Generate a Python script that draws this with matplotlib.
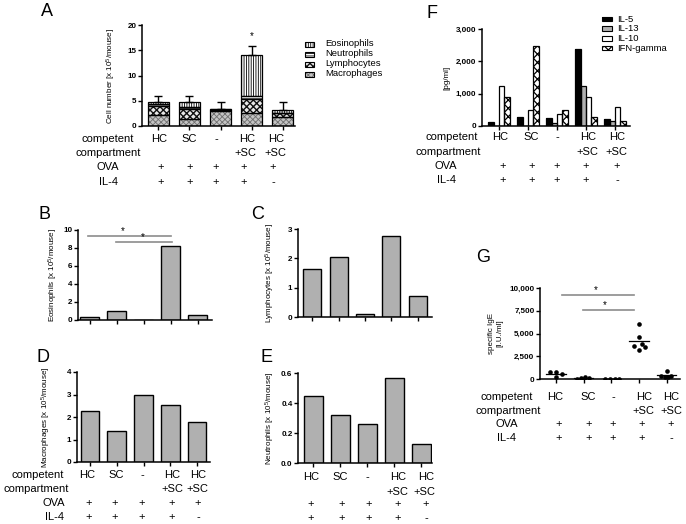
import matplotlib
matplotlib.use('Agg')
import matplotlib.pyplot as plt
from matplotlib.patches import Rectangle

plt.rcParams['font.family'] = ['Liberation Sans', 'DejaVu Sans']
plt.rcParams['mathtext.fontset'] = 'custom'
plt.rcParams['mathtext.rm'] = 'Liberation Sans'
plt.rcParams['mathtext.it'] = 'Liberation Sans:italic'
plt.rcParams['mathtext.bf'] = 'Liberation Sans:bold'
plt.rcParams['hatch.linewidth'] = 0.6

# ---------------- data ----------------
groups = ['HC', 'SC', '-', 'HC\n+SC', 'HC\n+SC']
ova_row = ['+', '+', '+', '+', '+']
il4_row = ['+', '+', '+', '+', '-']

eosinophils = [0.37, 1.0, 0.0, 8.22, 0.55]
lymphocytes = [1.63, 2.03, 0.09, 2.76, 0.73]
macrophages = [2.27, 1.39, 2.98, 2.52, 1.78]
neutrophils = [0.45, 0.32, 0.26, 0.565, 0.125]
total_sem = [1.2, 1.28, 1.34, 1.73, 1.53]

cytokine_names = ['IL-5', 'IL-13', 'IL-10', 'IFN-gamma']
il5 = [115, 290, 258, 2375, 227]
il13 = [0, 0, 80, 1240, 155]
il10 = [1240, 495, 370, 890, 600]
ifng = [890, 2480, 495, 270, 155]

ige_hc = [800, 800, 580, 180]
ige_sc = [30, 120, 220, 80, 40]
ige_none = [20, 20, 20, 20]
ige_hcsc = [6040, 4570, 3850, 3660, 3470, 3220]
ige_hcsc_noil4 = [900, 380, 300, 250, 200]

# ---------------- layout helpers ----------------
W, H = 686, 524
fig = plt.figure(figsize=(W / 100, H / 100), dpi=100)
GRAY = '#b0b0b0'
LINEG = '#8c8c8c'


def add_ax(x0, x1, ytop, ybot):
    return fig.add_axes([x0 / W, 1 - ybot / H, (x1 - x0) / W, (ybot - ytop) / H])


def T(x, y, s, size=8, ha='center', va='center', **kw):
    fig.text(x / W, 1 - y / H, s, fontsize=size, ha=ha, va=va, **kw)


def style(ax, ymax, yticks, yticklabels, ylabel, labx, xlim, x0px, x1px):
    ax.set_ylim(0, ymax)
    ax.set_xlim(*xlim)
    for s in ['top', 'right']:
        ax.spines[s].set_visible(False)
    for s in ['left', 'bottom']:
        ax.spines[s].set_linewidth(1.1)
    ax.set_yticks(yticks)
    ax.set_yticklabels(yticklabels, fontsize=5.8, fontweight='bold')
    ax.set_xticks(range(5))
    ax.set_xticklabels([])
    ax.tick_params(length=3, width=1, pad=1)
    ax.set_ylabel(ylabel, fontsize=5.8)
    ax.yaxis.set_label_coords((labx - x0px) / (x1px - x0px), 0.5)
    ax.patch.set_alpha(0)


def table(rowlab_x, rows_y, col_x, plus_x):
    labs = ['competent', 'compartment', 'OVA', 'IL-4']
    for i, lab in enumerate(labs):
        if rowlab_x[i] is not None:
            T(rowlab_x[i], rows_y[i], lab)
    for i, g in enumerate(groups):
        parts = g.split('\n')
        for j, p in enumerate(parts):
            T(col_x[j][i], rows_y[j], p)
        T(plus_x[i], rows_y[2], ova_row[i])
        T(plus_x[i], rows_y[3], il4_row[i])


xs = list(range(5))

# ---------------- Panel A ----------------
axA = add_ax(142, 295, 25, 126)
bw = 0.68
layers = [
    (macrophages, '#c4c4c4', '#6e6e6e', 'xxxxxx', 'Macrophages'),
    (lymphocytes, '#e8e8e8', '#111111', 'xxxxx', 'Lymphocytes'),
    (neutrophils, 'white', 'black', '-------', 'Neutrophils'),
    (eosinophils, 'white', 'black', '|||||||', 'Eosinophils'),
]
bottom = [0.0] * 5
for vals, fc, hc, hatch, name in layers:
    lw_h = 1.0 if name == 'Lymphocytes' else 0.6
    with plt.rc_context({'hatch.linewidth': lw_h}):
        axA.bar(xs, vals, bw, bottom=bottom, color=fc, edgecolor=hc, hatch=hatch, linewidth=0, zorder=2)
    axA.bar(xs, vals, bw, bottom=bottom, fill=False, edgecolor='black', linewidth=0.9, zorder=3)
    bottom = [b + v for b, v in zip(bottom, vals)]
axA.errorbar(xs, bottom, yerr=[[0] * 5, total_sem], fmt='none', ecolor='black',
             elinewidth=1, capsize=3, capthick=1, zorder=4)
axA.text(3, 17.9, '*', ha='center', va='center', fontsize=7)
style(axA, 20, [0, 5, 10, 15, 20], ['0', '5', '10', '15', '20'],
      'Cell number [x 10$^{5}$/mouse]', 118, (-0.53, 4.4), 142, 295)

# legend A
for i, (vals, fc, hc, hatch, name) in enumerate(reversed(layers)):
    y = 44 + 10 * i
    lw_h = 1.0 if name == 'Lymphocytes' else 0.6
    with plt.rc_context({'hatch.linewidth': lw_h}):
        fig.add_artist(Rectangle((305 / W, 1 - (y + 2.5) / H), 9 / W, 5 / H, transform=fig.transFigure,
                                 facecolor=fc, edgecolor=hc, hatch=hatch, linewidth=0))
    fig.add_artist(Rectangle((305 / W, 1 - (y + 2.5) / H), 9 / W, 5 / H, transform=fig.transFigure,
                             fill=False, edgecolor='black', linewidth=0.8))
    T(325, y, name, size=6.8, ha='left')

table([108, 108, 108, 108], [139, 153, 167, 182],
      [[159, 189, 216, 247, 276], [None, None, None, 245, 275]],
      [161, 190, 216, 244, 273])

# ---------------- Panel B ----------------
axB = add_ax(78, 212, 230, 320)
axB.bar(xs, eosinophils, 0.7, color=GRAY, edgecolor='black', linewidth=1, zorder=2)
style(axB, 10, [0, 2, 4, 6, 8, 10], ['0', '2', '4', '6', '8', '10'],
      'Eosinophils [x 10$^{5}$/mouse]', 60, (-0.44, 4.52), 78, 212)
axB.plot([-0.07, 3.0], [9.33, 9.33], color=LINEG, lw=1.2)
axB.plot([0.96, 3.04], [8.67, 8.67], color=LINEG, lw=1.2)
axB.text(1.22, 9.85, '*', ha='center', va='center', fontsize=7)
axB.text(1.96, 9.2, '*', ha='center', va='center', fontsize=7)

# ---------------- Panel C ----------------
axC = add_ax(298, 432, 229, 317)
axC.bar(xs, lymphocytes, 0.68, color=GRAY, edgecolor='black', linewidth=1, zorder=2)
style(axC, 3, [0, 1, 2, 3], ['0', '1', '2', '3'],
      'Lymphocytes [x 10$^{5}$/mouse]', 277, (-0.53, 4.53), 298, 432)

# ---------------- Panel D ----------------
axD = add_ax(77, 210, 372, 462)
axD.bar(xs, macrophages, 0.7, color=GRAY, edgecolor='black', linewidth=1, zorder=2)
style(axD, 4, [0, 1, 2, 3, 4], ['0', '1', '2', '3', '4'],
      'Macrophages [x 10$^{5}$/mouse]', 53, (-0.49, 4.49), 77, 210)
table([38, 36, 54, 55], [475, 489, 503, 517],
      [[87, 116, 142, 172, 198], [None, None, None, 172, 197]],
      [89, 115, 142, 172, 198])

# ---------------- Panel E ----------------
axE = add_ax(298, 432, 373, 463)
axE.bar(xs, neutrophils, 0.7, color=GRAY, edgecolor='black', linewidth=1, zorder=2)
style(axE, 0.6, [0, 0.2, 0.4, 0.6], ['0.0', '0.2', '0.4', '0.6'],
      'Neutrophils [x 10$^{5}$/mouse]', 277, (-0.56, 4.4), 298, 432)
table([None, None, None, None], [477, 492, 504, 518],
      [[311, 340, 367, 398, 426], [None, None, None, 397, 424]],
      [311, 342, 369, 398, 426])

# ---------------- Panel F ----------------
axF = add_ax(482, 630, 29, 126)
cw = 0.185
offs = [-0.28, -0.095, 0.09, 0.275]
cyto_vals = [il5, il13, il10, ifng]
cyto_style = [('black', 'black', ''), (GRAY, 'black', ''), ('white', 'black', ''), ('white', 'black', 'xxxx')]
for vals, off, (fc, hc, hatch) in zip(cyto_vals, offs, cyto_style):
    pos = [x + off for x in xs]
    with plt.rc_context({'hatch.linewidth': 0.9}):
        axF.bar(pos, vals, cw, color=fc, edgecolor=hc, hatch=hatch, linewidth=0, zorder=2)
    axF.bar(pos, vals, cw, fill=False, edgecolor='black', linewidth=0.9, zorder=3)
style(axF, 3000, [0, 1000, 2000, 3000], ['0', '1,000', '2,000', '3,000'],
      '[pg/ml]', 450, (-0.59, 4.52), 482, 630)
for i, (name, (fc, hc, hatch)) in enumerate(zip(cytokine_names, cyto_style)):
    y = 19 + 9.7 * i
    with plt.rc_context({'hatch.linewidth': 0.9}):
        fig.add_artist(Rectangle((602 / W, 1 - (y + 2.3) / H), 10 / W, 4.6 / H, transform=fig.transFigure,
                                 facecolor=fc, edgecolor=hc, hatch=hatch, linewidth=0))
    fig.add_artist(Rectangle((602 / W, 1 - (y + 2.3) / H), 10 / W, 4.6 / H, transform=fig.transFigure,
                             fill=False, edgecolor='black', linewidth=0.8))
    T(617, y, name, size=6.8, ha='left')
table([452, 448, 446, 447], [137, 152, 166, 180],
      [[500, 531, 557, 588, 617], [None, None, None, 587, 616]],
      [503, 532, 557, 586, 617])

# ---------------- Panel G ----------------
axG = add_ax(540, 680, 288, 379)
ige_groups = [ige_hc, ige_sc, ige_none, ige_hcsc, ige_hcsc_noil4]
jitter = [[-0.22, 0.0, 0.2, 0.0],
          [-0.25, -0.1, 0.05, 0.2, 0.0],
          [-0.24, -0.06, 0.12, 0.28],
          [0.0, 0.0, 0.1, -0.19, 0.22, 0.0],
          [0.0, -0.2, 0.17, 0.05, -0.08]]
for i, (vals, jit) in enumerate(zip(ige_groups, jitter)):
    axG.scatter([i + j for j in jit], vals, s=11, color='black', zorder=3, linewidths=0)
    m = sum(vals) / len(vals)
    axG.plot([i - 0.35, i + 0.35], [m, m], color='black', lw=0.9, zorder=2)
style(axG, 10000, [0, 2500, 5000, 7500, 10000], ['0', '2,500', '5,000', '7,500', '10,000'],
      'specific IgE\n[I.U./ml]', 503, (-0.58, 4.48), 540, 680)
axG.plot([0.2, 2.8], [9264, 9264], color=LINEG, lw=1.2, clip_on=False)
axG.plot([0.97, 2.8], [7615, 7615], color=LINEG, lw=1.2, clip_on=False)
axG.text(1.44, 9750, '*', ha='center', va='center', fontsize=7)
axG.text(1.77, 8100, '*', ha='center', va='center', fontsize=7)
table([507, 508, 507, 507], [397, 411, 424, 438],
      [[555, 588, 613, 644, 671], [None, None, None, 643, 671]],
      [559, 589, 613, 642, 671])

# ---------------- panel letters ----------------
for letter, (x, y) in {'A': (47, 11), 'B': (45, 214), 'C': (258, 215), 'D': (43, 358),
                       'E': (267, 358), 'F': (432, 13), 'G': (483, 257)}.items():
    T(x, y, letter, size=13)

fig.savefig('out.png', dpi=100)
